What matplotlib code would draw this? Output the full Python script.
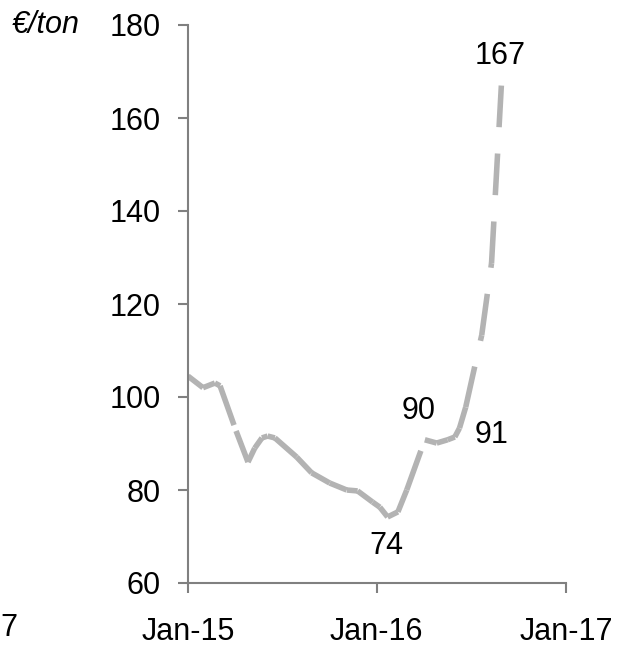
import matplotlib
matplotlib.use('Agg')
import matplotlib.pyplot as plt
import matplotlib.dates as mdates
import pandas as pd

# ---- data ----
dates = ['2015-01-01', '2015-01-30', '2015-02-22', '2015-03-04', '2015-04-04',
         '2015-04-27', '2015-05-10', '2015-05-24', '2015-06-04', '2015-06-18',
         '2015-07-30', '2015-08-28', '2015-10-02', '2015-11-04', '2015-11-25',
         '2015-12-24', '2016-01-07', '2016-01-22', '2016-02-11', '2016-02-28',
         '2016-04-03', '2016-04-26', '2016-05-17', '2016-05-31', '2016-06-09',
         '2016-06-21', '2016-07-22', '2016-08-10', '2016-08-29']
prices = [104.5, 102, 103, 102.4, 92.7, 86, 89, 91.2, 91.6, 91.2,
          87.1, 83.7, 81.5, 80, 79.8, 77.4, 76.3, 74.2, 75.3, 80,
          90.8, 90.1, 90.8, 91.4, 93.3, 97.8, 113.3, 128.8, 167]

label_values = [74, 90, 91, 167]
label_dates = ['2016-01-20', '2016-03-22', '2016-08-10', '2016-08-27']
label_y = [68.0, 97.0, 91.8, 173.3]

x_ticks = ['2015-01-01', '2016-01-01', '2017-01-01']
x_tick_labels = ['Jan-15', 'Jan-16', 'Jan-17']
y_ticks = [60, 80, 100, 120, 140, 160, 180]
unit_label = '€/ton'

plt.rcParams['font.family'] = ['Liberation Sans', 'DejaVu Sans']
plt.rcParams['lines.scale_dashes'] = False

FS = 22
W, H = 617, 646
fig = plt.figure(figsize=(W / 100, H / 100), dpi=100)
ax = fig.add_axes([188 / W, 1 - 583 / H, (566 - 188) / W, (583 - 25) / H])

d = pd.to_datetime(dates)
line_color = '#b3b3b3'
for i in range(len(d) - 1):
    ax.plot(d[i:i + 2], prices[i:i + 2], color=line_color, lw=4.0,
            dashes=(30, 19), dash_capstyle='butt', solid_capstyle='butt')

for v, dt, yy in zip(label_values, label_dates, label_y):
    ax.text(pd.Timestamp(dt), yy, str(v), ha='center', va='center',
            fontsize=FS, color='black')

ax.set_xlim(pd.Timestamp(x_ticks[0]), pd.Timestamp(x_ticks[-1]))
ax.set_ylim(y_ticks[0], y_ticks[-1])
ax.set_xticks(pd.to_datetime(x_ticks))
ax.set_xticklabels(x_tick_labels)
ax.set_yticks(y_ticks)

spine_color = '#808080'
for s in ['top', 'right']:
    ax.spines[s].set_visible(False)
for s in ['left', 'bottom']:
    ax.spines[s].set_color(spine_color)
    ax.spines[s].set_linewidth(1.5)
ax.tick_params(axis='both', direction='out', length=7.2, width=1.5,
               color=spine_color, labelsize=FS, labelcolor='black')
ax.tick_params(axis='y', pad=12.5)
ax.tick_params(axis='x', pad=17)

fig.text(12 / W, 1 - 25 / H, unit_label, ha='left', va='center',
         fontsize=FS, style='italic')
fig.text(0, 1 - 628 / H, '7', ha='left', va='center', fontsize=FS)

fig.savefig('out.png', dpi=100)
